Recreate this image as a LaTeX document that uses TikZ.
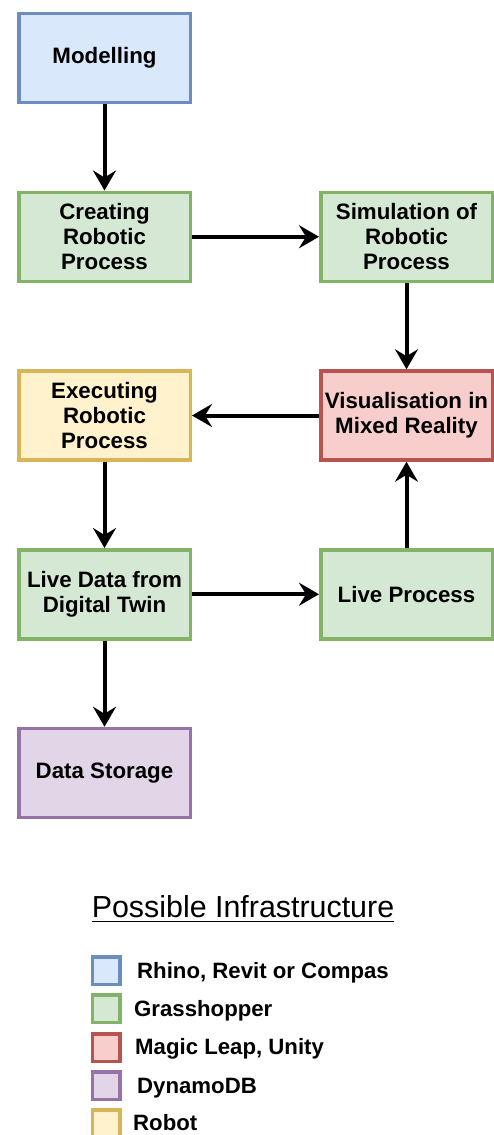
\documentclass[tikz,border=0pt]{standalone}
\usepackage{fontspec}
\setmainfont{Liberation Sans}
\usetikzlibrary{arrows.meta}

% draw.io palette: fill / stroke
\definecolor{blueF}{HTML}{DAE8FC}\definecolor{blueS}{HTML}{6C8EBF}
\definecolor{greenF}{HTML}{D5E8D4}\definecolor{greenS}{HTML}{82B366}
\definecolor{redF}{HTML}{F8CECC}\definecolor{redS}{HTML}{B85450}
\definecolor{purpleF}{HTML}{E1D5E7}\definecolor{purpleS}{HTML}{9673A6}
\definecolor{yellowF}{HTML}{FFF2CC}\definecolor{yellowS}{HTML}{D6B656}

\begin{document}
\begin{tikzpicture}[x=1pt,y=-1pt,
  box/.style={draw, line width=3.5pt, minimum width=171.5pt, minimum height=89pt,
    inner sep=1pt, align=center, font=\bfseries\fontsize{22.3}{25}\selectfont},
  bluebox/.style={box, draw=blueS, fill=blueF},
  greenbox/.style={box, draw=greenS, fill=greenF},
  redbox/.style={box, draw=redS, fill=redF},
  purplebox/.style={box, draw=purpleS, fill=purpleF},
  yellowbox/.style={box, draw=yellowS, fill=yellowF},
  flow/.style={line width=4pt, -{Stealth[length=20pt, width=23pt, inset=7pt]}},
  swatch/.style={draw, line width=3.5pt, minimum size=27.5pt, inner sep=0pt},
  legtext/.style={anchor=base west, inner sep=0pt, font=\bfseries\fontsize{22.2}{25}\selectfont}
]
\useasboundingbox (0,0) rectangle (493,1135);

% process boxes
\node[bluebox]   (model) at (104.5,58)    {Modelling};
\node[greenbox]  (create) at (104.5,236.75) {Creating\\Robotic\\Process};
\node[greenbox]  (sim)   at (406.5,236.75) {Simulation of\\Robotic\\Process};
\node[yellowbox] (exec)  at (104.5,415.5)  {Executing\\Robotic\\Process};
\node[redbox]    (vis)   at (406.5,415.5)  {Visualisation in\\Mixed Reality};
\node[greenbox]  (live)  at (104.5,594.25) {Live Data from\\Digital Twin};
\node[greenbox]  (lproc) at (406.5,594.25) {Live Process};
\node[purplebox] (store) at (104.5,773)    {Data Storage};

% connectors
\draw[flow] (model) -- (create);
\draw[flow] (create) -- (sim);
\draw[flow] (sim) -- (vis);
\draw[flow] (vis) -- (exec);
\draw[flow] (exec) -- (live);
\draw[flow] (live) -- (lproc);
\draw[flow] (lproc) -- (vis);
\draw[flow] (live) -- (store);

% legend
\node[anchor=base, inner sep=0pt, font=\fontsize{30.4}{36}\selectfont] (title) at (243,917) {Possible Infrastructure};
\draw[line width=1.8pt] ([yshift=-4.5pt]title.base west) -- ([yshift=-4.5pt]title.base east);

\node[swatch, draw=blueS, fill=blueF]     (s1) at (106,970.5) {};
\node[swatch, draw=greenS, fill=greenF]   (s2) at (106,1008.5) {};
\node[swatch, draw=redS, fill=redF]       (s3) at (106,1047.5) {};
\node[swatch, draw=purpleS, fill=purpleF] (s4) at (106,1085.5) {};
\node[swatch, draw=yellowS, fill=yellowF] (s5) at (106,1123.5) {};

\node[legtext] (l1) at (137,978)  {Rhino, Revit or Compas};
\node[legtext] (l2) at (134,1016) {Grasshopper};
\node[legtext] (l3) at (135,1054) {Magic Leap, Unity};
\node[legtext] (l4) at (137,1093) {DynamoDB};
\node[legtext] (l5) at (133,1130) {Robot};
\end{tikzpicture}
\end{document}
